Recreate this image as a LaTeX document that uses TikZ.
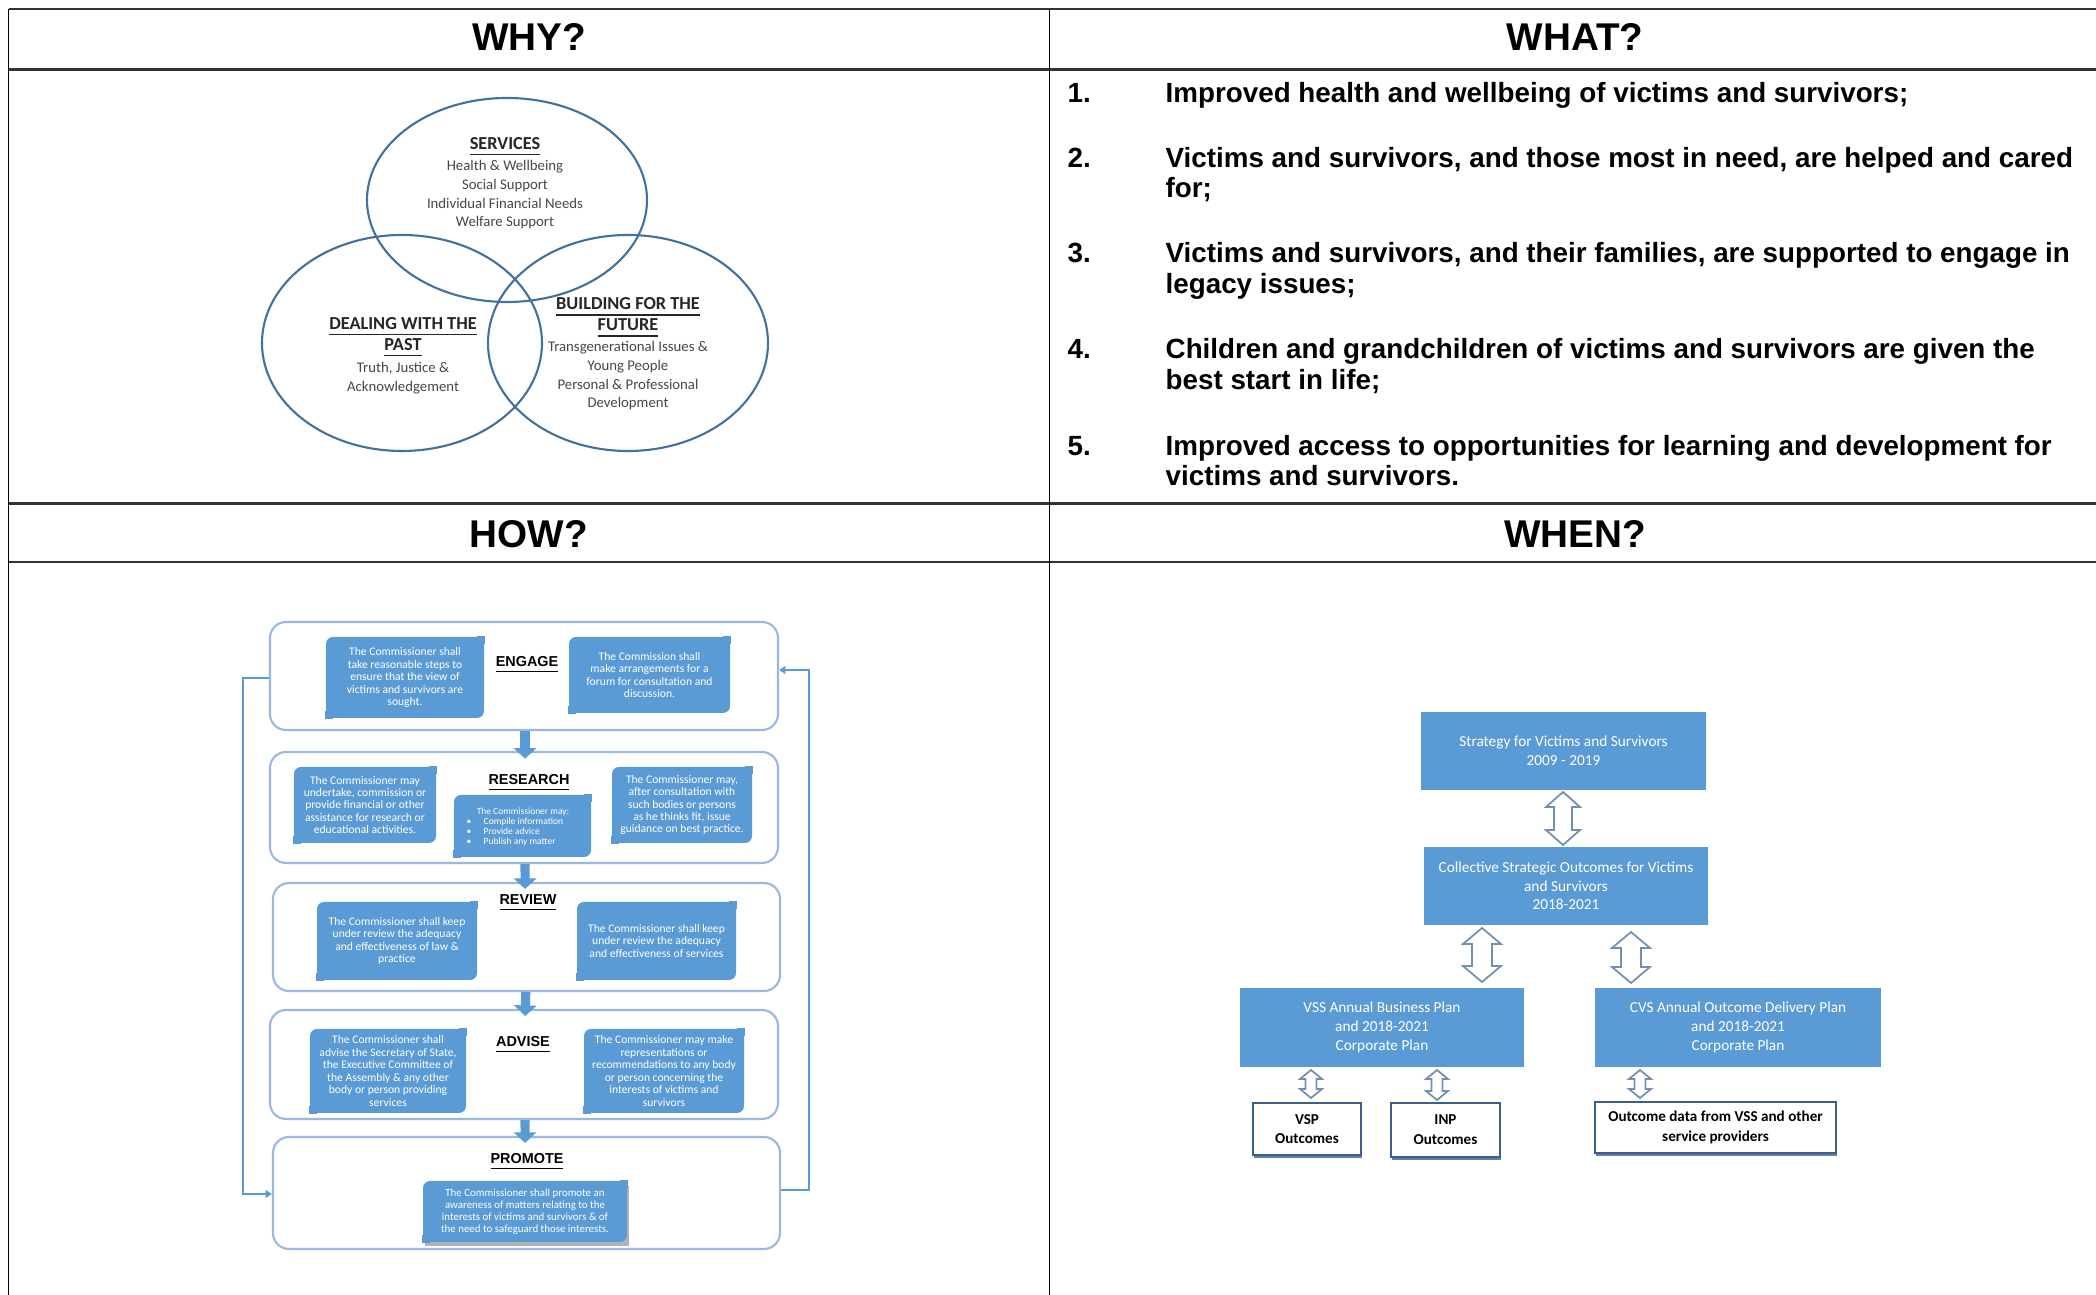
\documentclass[tikz,border=0pt]{standalone}
\usepackage{fontspec}
\setmainfont{Liberation Sans}
\newfontfamily\calfont{Carlito}
\usetikzlibrary{arrows.meta,shapes.geometric,shadows}
\newdimen\px \px=0.01cm
\definecolor{bluefill}{RGB}{91,155,213}
\definecolor{venncol}{RGB}{65,113,156}
\definecolor{rowcol}{RGB}{155,185,220}
\definecolor{dblcol}{RGB}{115,145,175}
\definecolor{obcol}{RGB}{60,95,140}
\definecolor{linecol}{RGB}{91,155,213}
\newcommand{\twoarrow}[6]{%
  \filldraw[dbl] (#1,#2) -- ({#1+#4},{#2+#6}) -- ({#1+#5},{#2+#6}) -- ({#1+#5},{#3-#6}) -- ({#1+#4},{#3-#6}) -- (#1,#3) -- ({#1-#4},{#3-#6}) -- ({#1-#5},{#3-#6}) -- ({#1-#5},{#2+#6}) -- ({#1-#4},{#2+#6}) -- cycle;}
\newcommand{\sharpen}[1]{%
  \fill[bluefill] (#1.north east) rectangle ++(-8,8);
  \fill[bluefill] (#1.south west) rectangle ++(8,-8);}
\begin{document}
\begin{tikzpicture}[x=0.01cm, y=-0.01cm,
  hdr/.style={font=\bfseries\fontsize{11}{13}\selectfont, inner sep=0},
  itm/.style={font=\bfseries\fontsize{7.9}{9}\selectfont, anchor=base west, inner sep=0},
  hline/.style={draw=black!80, line width=0.8pt},
  vline/.style={draw=black, line width=0.35pt},
  venn/.style={ellipse, draw=venncol, line width=0.6pt, inner sep=0},
  vhead/.style={font=\calfont\bfseries\fontsize{5.2}{6}\selectfont, text=black!85, align=center, inner sep=0},
  vbody/.style={font=\calfont\fontsize{4.2}{5.3}\selectfont, text=black!72, align=center, inner sep=0},
  rowbox/.style={draw=rowcol, line width=0.6pt, rounded corners=16\px},
  bbox/.style={fill=bluefill, rounded corners=7\px, inner sep=0, text=white, align=center, font=\calfont\fontsize{3.3}{3.55}\selectfont},
  ttl/.style={font=\bfseries\fontsize{4.1}{5}\selectfont, inner sep=0},
  flow/.style={draw=bluefill, line width=2.6pt, -{Triangle[width=6.3pt,length=3pt]}},
  loopl/.style={draw=linecol, line width=0.55pt},
  wbox/.style={fill=bluefill, text=white, align=center, inner sep=0, font=\calfont\fontsize{4.35}{5.3}\selectfont},
  obox/.style={draw=obcol, line width=0.7pt, fill=white, align=center, inner sep=0, font=\calfont\bfseries\fontsize{4.3}{5.6}\selectfont, drop shadow={shadow xshift=0.3pt, shadow yshift=-0.8pt, fill=obcol, opacity=0.8}},
  dbl/.style={draw=dblcol, line width=0.5pt, fill=white, line join=miter}
]
\useasboundingbox (0,0) rectangle (2096,1295);
\fill[white] (0,0) rectangle (2096,1295);

% table
\draw[hline] (8.5,9) -- (2096,9);
\draw[hline] (8.5,69.5) -- (2096,69.5);
\draw[hline] (8.5,503.5) -- (2096,503.5);
\draw[hline] (8.5,562) -- (2096,562);
\draw[vline] (8.5,9) -- (8.5,1295);
\draw[vline] (1049.5,9) -- (1049.5,1295);

\node[hdr] (why) at (529,37) {WHY?};
\node[hdr] (what) at (1575,37) {WHAT?};
\node[hdr] (how) at (529,534) {HOW?};
\node[hdr] (when) at (1575,534) {WHEN?};

% WHAT
\node[itm] (n1) at (1067,103) {1.};
\node[itm] (t1) at (1165,103) {Improved health and wellbeing of victims and survivors;};
\node[itm] (n2) at (1067,168) {2.};
\node[itm] (t2a) at (1165,168) {Victims and survivors, and those most in need, are helped and cared};
\node[itm] (t2b) at (1165,198) {for;};
\node[itm] (n3) at (1067,263) {3.};
\node[itm] (t3a) at (1165,263) {Victims and survivors, and their families, are supported to engage in};
\node[itm] (t3b) at (1165,294) {legacy issues;};
\node[itm] (n4) at (1067,359) {4.};
\node[itm] (t4a) at (1165,359) {Children and grandchildren of victims and survivors are given the};
\node[itm] (t4b) at (1165,390) {best start in life;};
\node[itm] (n5) at (1067,456) {5.};
\node[itm] (t5a) at (1165,456) {Improved access to opportunities for learning and development for};
\node[itm] (t5b) at (1165,486) {victims and survivors.};

% WHY Venn
\node[venn, minimum width=280\px, minimum height=204\px] (svc) at (507,200) {};
\node[venn, minimum width=280\px, minimum height=216\px] (past) at (402,343) {};
\node[venn, minimum width=280\px, minimum height=216\px] (fut) at (628,343) {};
\node[vhead] (svch) at (505,147) {\underline{SERVICES}};
\node[vbody] (svcb) at (505,195) {Health \& Wellbeing\\Social Support\\Individual Financial Needs\\Welfare Support};
\node[vhead] (pasth) at (403,337.5) {\underline{DEALING WITH THE}\\\underline{PAST}};
\node[vbody] (pastb) at (403,378) {Truth, Justice \&\\Acknowledgement};
\node[vhead] (futh) at (628,318) {\underline{BUILDING FOR THE}\\\underline{FUTURE}};
\node[vbody] (futb) at (628,376) {Transgenerational Issues \&\\Young People\\Personal \& Professional\\Development};

% HOW
\node[rowbox, minimum width=508\px, minimum height=108\px] (engage) at (524,676) {};
\node[rowbox, minimum width=508\px, minimum height=111\px] (research) at (524,807.5) {};
\node[rowbox, minimum width=507\px, minimum height=108\px] (review) at (526.5,937) {};
\node[rowbox, minimum width=508\px, minimum height=109\px] (advise) at (524,1064.5) {};
\node[rowbox, minimum width=507\px, minimum height=112\px] (promote) at (526.5,1193) {};

\node[ttl] (engaget) at (527,665) {\underline{ENGAGE}};
\node[ttl] (researcht) at (529,783) {\underline{RESEARCH}};
\node[ttl] (reviewt) at (528,903) {\underline{REVIEW}};
\node[ttl] (adviset) at (523,1045) {\underline{ADVISE}};
\node[ttl] (promotet) at (527,1162) {\underline{PROMOTE}};

\node[bbox, minimum width=158\px, minimum height=81\px] (e1) at (405,677.5) {The Commissioner shall\\take reasonable steps to\\ensure that the view of\\victims and survivors are\\sought.};
\sharpen{e1}
\node[bbox, minimum width=161\px, minimum height=76\px] (e2) at (649.5,675) {The Commission shall\\make arrangements for a\\forum for consultation and\\discussion.};
\sharpen{e2}
\node[bbox, minimum width=142\px, minimum height=76\px] (r1) at (365,805) {The Commissioner may\\undertake, commission or\\provide financial or other\\assistance for research or\\educational activities.};
\sharpen{r1}
\node[bbox, minimum width=137\px, minimum height=62\px] (r2) at (522.5,826) {};
\sharpen{r2}
\node[bbox, font=\calfont\fontsize{2.7}{2.85}\selectfont] (r2h) at (523,812) {The Commissioner may:};
\node[bbox, anchor=west, align=left, fill=none, font=\calfont\fontsize{2.7}{2.85}\selectfont] (r2b) at (466,832) {\textbullet\hspace{3.5pt}Compile information\\\textbullet\hspace{3.5pt}Provide advice\\\textbullet\hspace{3.5pt}Publish any matter};
\node[bbox, minimum width=140\px, minimum height=76\px] (r3) at (682,805) {The Commissioner may,\\after consultation with\\such bodies or persons\\as he thinks fit, issue\\guidance on best practice.};
\sharpen{r3}
\node[bbox, minimum width=160\px, minimum height=78\px] (v1) at (397,941) {The Commissioner shall keep\\under review the adequacy\\and effectiveness of law \&\\practice};
\sharpen{v1}
\node[bbox, minimum width=159\px, minimum height=78\px] (v2) at (656.5,941) {The Commissioner shall keep\\under review the adequacy\\and effectiveness of services};
\sharpen{v2}
\node[bbox, minimum width=156\px, minimum height=84\px] (a1) at (388,1071) {The Commissioner shall\\advise the Secretary of State,\\the Executive Committee of\\the Assembly \& any other\\body or person providing\\services};
\sharpen{a1}
\node[bbox, minimum width=160\px, minimum height=84\px] (a2) at (664,1071) {The Commissioner may make\\representations or\\recommendations to any body\\or person concerning the\\interests of victims and\\survivors};
\sharpen{a2}
\fill[black!30] (425,1186) rectangle (629,1246);
\node[bbox, minimum width=204\px, minimum height=61\px, font=\calfont\fontsize{3.1}{3.45}\selectfont] (p1) at (525,1211.5) {The Commissioner shall promote an\\awareness of matters relating to the\\interests of victims and survivors \& of\\the need to safeguard those interests.};
\sharpen{p1}

\draw[flow] ([xshift=0.3pt]engage.south) -- ([xshift=0.3pt,yshift=-2.2pt]research.north);
\draw[flow] ([xshift=0.3pt]research.south) -- ([xshift=-0.4pt,yshift=-2pt]review.north);
\draw[flow] ([xshift=-0.2pt]review.south) -- ([xshift=0.3pt,yshift=-2pt]advise.north);
\draw[flow] ([xshift=0.3pt]advise.south) -- ([xshift=-0.4pt,yshift=-2pt]promote.north);

\coordinate (lt) at (243,678);
\coordinate (lb) at (243,1194);
\coordinate (rt) at (809,670);
\coordinate (rb) at (809,1190);
\draw[loopl, -{Triangle[width=2.2pt,length=1.8pt]}] (engage.west |- lt) -- (lt) -- (lb) -- (promote.west |- lb);
\draw[loopl, -{Triangle[width=2.2pt,length=1.8pt]}] (promote.east |- rb) -- (rb) -- (rt) -- (engage.east |- rt);

% WHEN
\node[wbox, minimum width=285\px, minimum height=78\px] (strat) at (1563.5,751) {Strategy for Victims and Survivors\\2009 - 2019};
\node[wbox, minimum width=284\px, minimum height=78\px] (coll) at (1566,886) {Collective Strategic Outcomes for Victims\\and Survivors\\2018-2021};
\node[wbox, minimum width=284\px, minimum height=79\px] (vss) at (1382,1027.5) {VSS Annual Business Plan\\and 2018-2021\\Corporate Plan};
\node[wbox, minimum width=286\px, minimum height=79\px] (cvs) at (1738,1027.5) {CVS Annual Outcome Delivery Plan\\and 2018-2021\\Corporate Plan};
\node[obox, minimum width=108\px, minimum height=52\px] (vsp) at (1307,1129) {VSP\\Outcomes};
\node[obox, minimum width=109\px, minimum height=54\px] (inp) at (1445.5,1130) {INP\\Outcomes};
\node[obox, minimum width=241\px, minimum height=51\px] (outd) at (1715.5,1127.5) {Outcome data from VSS and other\\service providers};

\twoarrow{1563}{792}{845}{17}{9}{15}
\twoarrow{1482}{928}{982}{19}{10}{16}
\twoarrow{1631}{932}{983}{19}{10}{16}
\twoarrow{1311}{1070}{1098}{11}{5.5}{9}
\twoarrow{1437}{1070}{1100}{11}{5.5}{9}
\twoarrow{1640}{1070}{1098}{11}{5.5}{9}
\end{tikzpicture}
\end{document}
